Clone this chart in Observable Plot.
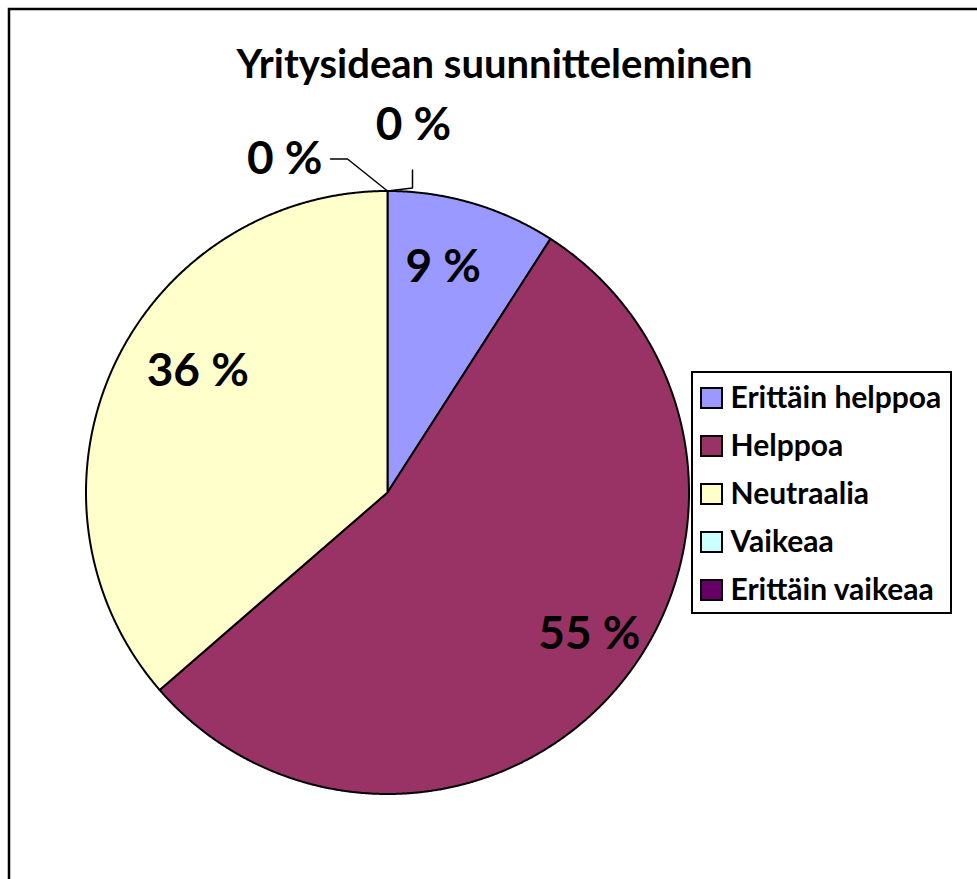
<!DOCTYPE html>
<html><head><meta charset="utf-8">
<script src="https://cdn.jsdelivr.net/npm/d3@7"></script>
<script src="https://cdn.jsdelivr.net/npm/@observablehq/plot@0.6"></script>
<style>
html,body{margin:0;padding:0;background:#fff;overflow:hidden}
</style></head><body><div id="chart"></div>
<script>
// ---- data ----
const title = "Yritysidean suunnitteleminen";
const categories = ["Erittäin helppoa", "Helppoa", "Neutraalia", "Vaikeaa", "Erittäin vaikeaa"];
const counts = [1, 6, 4, 0, 0];
const percentLabels = ["9 %", "55 %", "36 %", "0 %", "0 %"];
const colors = ["#9999FF", "#993366", "#FFFFCC", "#CCFFFF", "#660066"];

// ---- layout ----
const W = 977, H = 879;
const cx = 387, cy = 492, R = 301.5;
const font = "Lato, 'Open Sans', sans-serif";
const labelRadius = 0.75;
const labelNudge = [[-8, -8], [31, -6], [16, -27]];
const zeroLeader = {3: {path: [[0, 0], [-40, -32], [-57, -32]], label: [-65, -32], anchor: "end"},
                    4: {path: [[0, 0], [25, -3], [25, -21]], label: [26, -66], anchor: "middle"}};

const arcs = d3.pie().sort(null).value(d => d)(counts);

const slices = [];
arcs.forEach((a, i) => {
  const span = a.endAngle - a.startAngle;
  if (span <= 0) return;
  const n = Math.max(2, Math.ceil(span / 0.004));
  slices.push({cat: categories[i], px: cx, py: cy});
  for (let k = 0; k <= n; k++) {
    const t = a.startAngle + span * k / n;
    slices.push({cat: categories[i], px: cx + R * Math.sin(t), py: cy - R * Math.cos(t)});
  }
  slices.push({cat: categories[i], px: cx, py: cy});
});

const labels = [];
const leaders = [];
arcs.forEach((a, i) => {
  const span = a.endAngle - a.startAngle;
  if (span > 0) {
    const m = (a.startAngle + a.endAngle) / 2;
    const [nx, ny] = labelNudge[i] || [0, 0];
    labels.push({text: percentLabels[i], px: cx + labelRadius * R * Math.sin(m) + nx,
                 py: cy - labelRadius * R * Math.cos(m) + ny, anchor: "middle"});
  } else {
    const ex = cx + R * Math.sin(a.startAngle), ey = cy - R * Math.cos(a.startAngle);
    const z = zeroLeader[i];
    z.path.forEach(([dx, dy]) => leaders.push({id: i, px: ex + dx, py: ey + dy}));
    labels.push({text: percentLabels[i], px: ex + z.label[0], py: ey + z.label[1], anchor: z.anchor});
  }
});

const legX1 = 692, legY1 = 372, legX2 = 951, legY2 = 613;
const rowY0 = 398, rowStep = 48;
const legend = categories.map((c, i) => ({cat: c, y: rowY0 + i * rowStep}));

const chart = Plot.plot({
  width: W, height: H,
  margin: 0,
  x: {domain: [0, W], range: [0, W], axis: null},
  y: {domain: [0, H], range: [0, H], axis: null},
  color: {type: "ordinal", domain: categories, range: colors},
  style: {fontFamily: font, background: "white", color: "black"},
  marks: [
    Plot.rect([0], {x1: () => 9, y1: () => 9, x2: () => W + 30, y2: () => H + 30, fill: "none", stroke: "black", strokeWidth: 2.5}),
    Plot.text([title], {x: () => 494, y: () => 65, text: d => d, fontSize: 40, fontWeight: "bold", fill: "black"}),
    Plot.line(slices, {x: "px", y: "py", z: "cat", fill: "cat", stroke: "black", strokeWidth: 2, strokeLinejoin: "round"}),
    Plot.line(leaders, {x: "px", y: "py", z: "id", stroke: "black", strokeWidth: 1.5}),
    Plot.text(labels.filter(d => d.anchor === "middle"), {x: "px", y: "py", text: "text", fontSize: 46, fontWeight: "bold", fill: "black", textAnchor: "middle"}),
    Plot.text(labels.filter(d => d.anchor === "end"), {x: "px", y: "py", text: "text", fontSize: 46, fontWeight: "bold", fill: "black", textAnchor: "end"}),
    Plot.rect([0], {x1: () => legX1, y1: () => legY1, x2: () => legX2, y2: () => legY2, fill: "white", stroke: "black", strokeWidth: 2}),
    Plot.rect(legend, {x1: () => 701, x2: () => 722, y1: d => d.y - 10, y2: d => d.y + 10, fill: "cat", stroke: "black", strokeWidth: 2}),
    Plot.text(legend, {x: () => 730, y: "y", text: "cat", textAnchor: "start", fontSize: 30, fontWeight: "bold", fill: "black"})
  ]
});
document.getElementById("chart").append(chart);
</script></body></html>
